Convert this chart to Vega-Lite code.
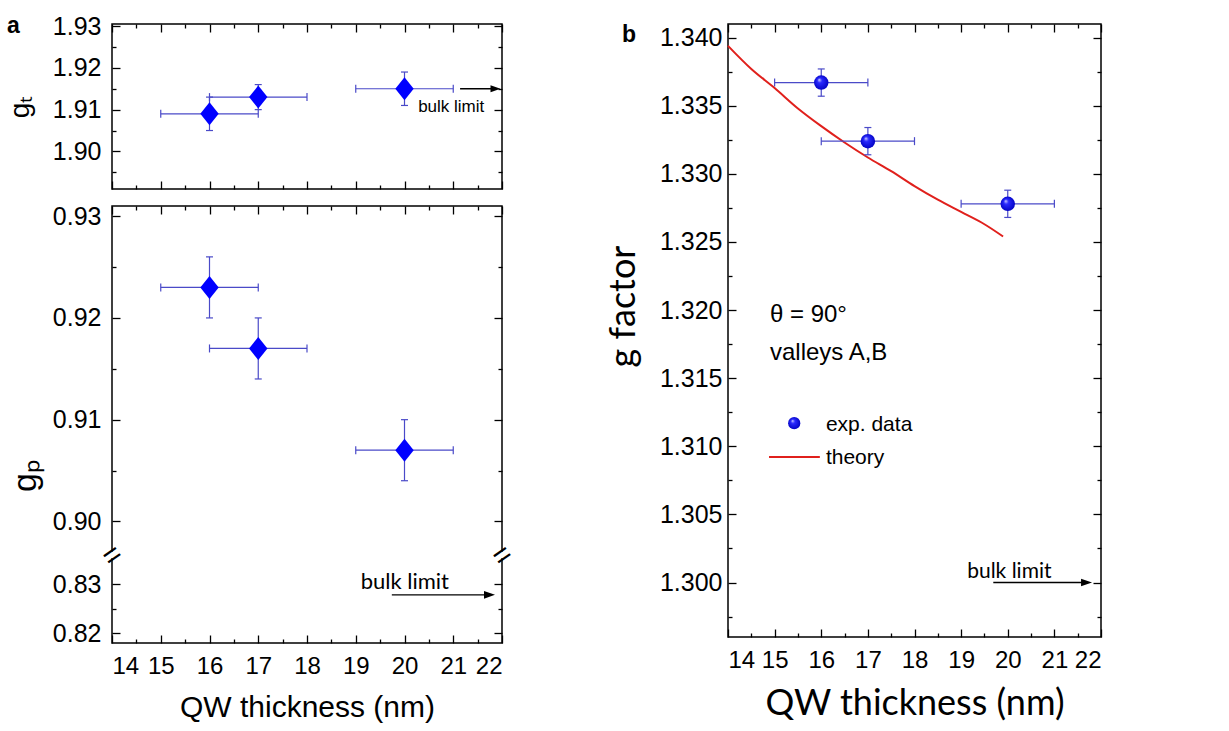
{
  "$schema": "https://vega.github.io/schema/vega-lite/v6.json",
  "background": "white",
  "padding": {"left": 5, "top": 13, "right": 5, "bottom": 0},
  "config": {
    "view": {"stroke": "black", "strokeWidth": 1.5},
    "axis": {"domain": false, "grid": false, "tickColor": "black", "tickWidth": 1.3, "labelFont": "Liberation Sans", "labelFontSize": 25, "labelColor": "black", "titleFont": "Liberation Sans", "titleFontWeight": "normal", "titleColor": "black", "labelPadding": 4}
  },
  "datasets": {
    "gt": [
      {"t": 16, "g": 1.909, "glo": 1.905, "ghi": 1.913, "tlo": 15, "thi": 17},
      {"t": 17, "g": 1.913, "glo": 1.910, "ghi": 1.916, "tlo": 16, "thi": 18},
      {"t": 20, "g": 1.915, "glo": 1.911, "ghi": 1.919, "tlo": 19, "thi": 21}
    ],
    "gp": [
      {"t": 16, "g": 0.923, "glo": 0.920, "ghi": 0.926, "tlo": 15, "thi": 17},
      {"t": 17, "g": 0.917, "glo": 0.914, "ghi": 0.920, "tlo": 16, "thi": 18},
      {"t": 20, "g": 0.907, "glo": 0.904, "ghi": 0.910, "tlo": 19, "thi": 21}
    ],
    "gb": [
      {"t": 16, "g": 1.3367, "glo": 1.3357, "ghi": 1.3377, "tlo": 15, "thi": 17},
      {"t": 17, "g": 1.3324, "glo": 1.3314, "ghi": 1.3334, "tlo": 16, "thi": 18},
      {"t": 20, "g": 1.3278, "glo": 1.3268, "ghi": 1.3288, "tlo": 19, "thi": 21}
    ],
    "theory": [
      {"t": 14.0, "g": 1.3394}, {"t": 14.5, "g": 1.3377}, {"t": 15.0, "g": 1.3363},
      {"t": 15.5, "g": 1.3348}, {"t": 16.0, "g": 1.3335}, {"t": 16.5, "g": 1.3323},
      {"t": 17.0, "g": 1.3312}, {"t": 17.5, "g": 1.3302}, {"t": 18.0, "g": 1.3291},
      {"t": 18.5, "g": 1.3281}, {"t": 19.0, "g": 1.3272}, {"t": 19.5, "g": 1.3263},
      {"t": 19.9, "g": 1.3254}
    ],
    "bulk_top": [{"t": 21.14, "t2": 21.867, "g": 1.915, "lt": 20.28, "lg": 1.9095, "label": "bulk limit"}],
    "bulk_bot": [{"t": 19.74, "t2": 21.744, "g": 0.8278, "lt": 19.1, "lg": 0.829, "label": "bulk limit"}],
    "bulk_b": [{"t": 19.69, "t2": 21.69, "g": 1.3, "lt": 19.13, "lg": 1.3003, "label": "bulk limit"}],
    "breaks": [{"t": 14, "g": 0.86}, {"t": 22, "g": 0.86}],
    "notes_b": [
      {"t": 14.9, "g": 1.31913, "label": "θ = 90°"},
      {"t": 14.9, "g": 1.31635, "label": "valleys A,B"}
    ],
    "legend_b": [
      {"series": "exp. data", "t": 15.42, "t2": 15.42, "g": 1.3117, "lt": 16.1, "lg": 1.31114},
      {"series": "theory", "t": 14.88, "t2": 15.97, "g": 1.30922, "lt": 16.1, "lg": 1.30872}
    ]
  },
  "hconcat": [
    {
      "spacing": 12,
      "vconcat": [
        {
          "width": 390, "height": 165,
          "title": {"text": "a", "anchor": "start", "frame": "group", "dx": -105, "dy": 14, "offset": -10, "fontSize": 23, "fontWeight": "bold", "font": "Liberation Sans", "color": "black"},
          "data": {"name": "gt"},
          "layer": [
            {"mark": {"type": "point", "opacity": 0}, "encoding": {
              "x": {"field": "t", "type": "quantitative", "scale": {"domain": [14, 22], "nice": false, "zero": false}, "axis": {"orient": "bottom", "values": [14,15,16,17,18,19,20,21,22], "labels": false, "tickSize": -8, "title": null}},
              "y": {"field": "g", "type": "quantitative", "scale": {"domain": [1.891, 1.9305], "nice": false, "zero": false}, "axis": {"orient": "left", "values": [1.90, 1.91, 1.92, 1.93], "format": ".2f", "tickSize": -8, "labelPadding": 19, "title": "gₜ", "titleFontSize": 28, "titlePadding": 18}}}},
            {"mark": {"type": "point", "opacity": 0}, "encoding": {
              "x": {"field": "t", "type": "quantitative", "axis": {"orient": "top", "values": [14,15,16,17,18,19,20,21,22], "labels": false, "tickSize": -8, "title": null}},
              "y": {"field": "g", "type": "quantitative", "axis": {"orient": "right", "values": [1.90, 1.91, 1.92, 1.93], "labels": false, "tickSize": -8, "title": null}}}},
            {"mark": {"type": "point", "opacity": 0}, "encoding": {
              "x": {"field": "t", "type": "quantitative", "axis": {"orient": "bottom", "values": [14.5,15.5,16.5,17.5,18.5,19.5,20.5,21.5], "labels": false, "tickSize": -4, "title": null}},
              "y": {"field": "g", "type": "quantitative", "axis": {"orient": "left", "values": [1.895, 1.905, 1.915, 1.925], "labels": false, "tickSize": -4, "title": null}}}},
            {"mark": {"type": "point", "opacity": 0}, "encoding": {
              "x": {"field": "t", "type": "quantitative", "axis": {"orient": "top", "values": [14.5,15.5,16.5,17.5,18.5,19.5,20.5,21.5], "labels": false, "tickSize": -4, "title": null}},
              "y": {"field": "g", "type": "quantitative", "axis": {"orient": "right", "values": [1.895, 1.905, 1.915, 1.925], "labels": false, "tickSize": -4, "title": null}}}},
            {"mark": {"type": "rule", "color": "#4a4ac8", "strokeWidth": 1.2}, "encoding": {
              "x": {"field": "tlo", "type": "quantitative", "axis": null}, "x2": {"field": "thi"},
              "y": {"field": "g", "type": "quantitative", "axis": null}}},
            {"mark": {"type": "rule", "color": "#4a4ac8", "strokeWidth": 1.2}, "encoding": {
              "x": {"field": "t", "type": "quantitative", "axis": null},
              "y": {"field": "glo", "type": "quantitative", "axis": null}, "y2": {"field": "ghi"}}},
            {"mark": {"type": "point", "shape": "M0,-1L0,1", "size": 64, "filled": false, "stroke": "#4a4ac8", "strokeWidth": 1.2, "opacity": 1}, "encoding": {
              "x": {"field": "tlo", "type": "quantitative", "axis": null}, "y": {"field": "g", "type": "quantitative", "axis": null}}},
            {"mark": {"type": "point", "shape": "M0,-1L0,1", "size": 64, "filled": false, "stroke": "#4a4ac8", "strokeWidth": 1.2, "opacity": 1}, "encoding": {
              "x": {"field": "thi", "type": "quantitative", "axis": null}, "y": {"field": "g", "type": "quantitative", "axis": null}}},
            {"mark": {"type": "point", "shape": "M-1,0L1,0", "size": 49, "filled": false, "stroke": "#4a4ac8", "strokeWidth": 1.2, "opacity": 1}, "encoding": {
              "x": {"field": "t", "type": "quantitative", "axis": null}, "y": {"field": "glo", "type": "quantitative", "axis": null}}},
            {"mark": {"type": "point", "shape": "M-1,0L1,0", "size": 49, "filled": false, "stroke": "#4a4ac8", "strokeWidth": 1.2, "opacity": 1}, "encoding": {
              "x": {"field": "t", "type": "quantitative", "axis": null}, "y": {"field": "ghi", "type": "quantitative", "axis": null}}},
            {"mark": {"type": "point", "shape": "M0,-1L0.8,0L0,1L-0.8,0Z", "size": 529, "filled": true, "fill": "#0000ff", "opacity": 1, "strokeWidth": 0}, "encoding": {
              "x": {"field": "t", "type": "quantitative", "axis": null}, "y": {"field": "g", "type": "quantitative", "axis": null}}},
            {"data": {"name": "bulk_top"}, "mark": {"type": "rule", "color": "black", "strokeWidth": 1.3}, "encoding": {
              "x": {"field": "t", "type": "quantitative", "axis": null}, "x2": {"field": "t2"}, "y": {"field": "g", "type": "quantitative", "axis": null}}},
            {"data": {"name": "bulk_top"}, "mark": {"type": "point", "shape": "M-1,-0.7L1,0L-1,0.7Z", "size": 100, "filled": true, "fill": "black", "opacity": 1}, "encoding": {
              "x": {"field": "t2", "type": "quantitative", "axis": null}, "y": {"field": "g", "type": "quantitative", "axis": null}}},
            {"data": {"name": "bulk_top"}, "mark": {"type": "text", "align": "left", "baseline": "alphabetic", "font": "Liberation Sans", "fontSize": 17, "color": "black"}, "encoding": {
              "x": {"field": "lt", "type": "quantitative", "axis": null}, "y": {"field": "lg", "type": "quantitative", "axis": null}, "text": {"field": "label"}}}
          ],
          "resolve": {"axis": {"x": "independent", "y": "independent"}}
        },
        {
          "width": 390, "height": 437,
          "data": {"name": "gp"},
          "layer": [
            {"mark": {"type": "point", "opacity": 0}, "encoding": {
              "x": {"field": "t", "type": "quantitative", "scale": {"domain": [14, 22], "nice": false, "zero": false}, "axis": {"orient": "bottom", "values": [14,15,16,17,18,19,20,21,22], "tickSize": -8, "labelPadding": 19, "labelFontSize": 24, "title": "QW thickness (nm)", "titleFontSize": 30, "titlePadding": 14}},
              "y": {"field": "g", "type": "quantitative", "scale": {"domain": [0.818, 0.8359, 0.8967, 0.931], "range": [437, 349, 349, 0], "nice": false, "zero": false}, "axis": {"orient": "left", "values": [0.82, 0.83, 0.90, 0.91, 0.92, 0.93], "format": ".2f", "tickSize": -8, "labelPadding": 19, "title": "gₚ", "titleFontSize": 34, "titlePadding": 10, "titleY": 269}}}},
            {"mark": {"type": "point", "opacity": 0}, "encoding": {
              "x": {"field": "t", "type": "quantitative", "axis": {"orient": "top", "values": [14,15,16,17,18,19,20,21,22], "labels": false, "tickSize": -8, "title": null}},
              "y": {"field": "g", "type": "quantitative", "axis": {"orient": "right", "values": [0.82, 0.83, 0.90, 0.91, 0.92, 0.93], "labels": false, "tickSize": -8, "title": null}}}},
            {"mark": {"type": "point", "opacity": 0}, "encoding": {
              "x": {"field": "t", "type": "quantitative", "axis": {"orient": "bottom", "values": [14.5,15.5,16.5,17.5,18.5,19.5,20.5,21.5], "labels": false, "tickSize": -4, "title": null}},
              "y": {"field": "g", "type": "quantitative", "axis": {"orient": "left", "values": [0.825, 0.905, 0.915, 0.925], "labels": false, "tickSize": -4, "title": null}}}},
            {"mark": {"type": "point", "opacity": 0}, "encoding": {
              "x": {"field": "t", "type": "quantitative", "axis": {"orient": "top", "values": [14.5,15.5,16.5,17.5,18.5,19.5,20.5,21.5], "labels": false, "tickSize": -4, "title": null}},
              "y": {"field": "g", "type": "quantitative", "axis": {"orient": "right", "values": [0.825, 0.905, 0.915, 0.925], "labels": false, "tickSize": -4, "title": null}}}},
            {"mark": {"type": "rule", "color": "#4a4ac8", "strokeWidth": 1.2}, "encoding": {
              "x": {"field": "tlo", "type": "quantitative", "axis": null}, "x2": {"field": "thi"},
              "y": {"field": "g", "type": "quantitative", "axis": null}}},
            {"mark": {"type": "rule", "color": "#4a4ac8", "strokeWidth": 1.2}, "encoding": {
              "x": {"field": "t", "type": "quantitative", "axis": null},
              "y": {"field": "glo", "type": "quantitative", "axis": null}, "y2": {"field": "ghi"}}},
            {"mark": {"type": "point", "shape": "M0,-1L0,1", "size": 64, "filled": false, "stroke": "#4a4ac8", "strokeWidth": 1.2, "opacity": 1}, "encoding": {
              "x": {"field": "tlo", "type": "quantitative", "axis": null}, "y": {"field": "g", "type": "quantitative", "axis": null}}},
            {"mark": {"type": "point", "shape": "M0,-1L0,1", "size": 64, "filled": false, "stroke": "#4a4ac8", "strokeWidth": 1.2, "opacity": 1}, "encoding": {
              "x": {"field": "thi", "type": "quantitative", "axis": null}, "y": {"field": "g", "type": "quantitative", "axis": null}}},
            {"mark": {"type": "point", "shape": "M-1,0L1,0", "size": 49, "filled": false, "stroke": "#4a4ac8", "strokeWidth": 1.2, "opacity": 1}, "encoding": {
              "x": {"field": "t", "type": "quantitative", "axis": null}, "y": {"field": "glo", "type": "quantitative", "axis": null}}},
            {"mark": {"type": "point", "shape": "M-1,0L1,0", "size": 49, "filled": false, "stroke": "#4a4ac8", "strokeWidth": 1.2, "opacity": 1}, "encoding": {
              "x": {"field": "t", "type": "quantitative", "axis": null}, "y": {"field": "ghi", "type": "quantitative", "axis": null}}},
            {"mark": {"type": "point", "shape": "M0,-1L0.8,0L0,1L-0.8,0Z", "size": 529, "filled": true, "fill": "#0000ff", "opacity": 1, "strokeWidth": 0}, "encoding": {
              "x": {"field": "t", "type": "quantitative", "axis": null}, "y": {"field": "g", "type": "quantitative", "axis": null}}},
            {"data": {"name": "breaks"}, "mark": {"type": "point", "shape": "square", "size": 40, "filled": true, "fill": "white", "opacity": 1, "strokeWidth": 0}, "encoding": {
              "x": {"field": "t", "type": "quantitative", "axis": null}, "y": {"field": "g", "type": "quantitative", "axis": null}}},
            {"data": {"name": "breaks"}, "mark": {"type": "text", "text": "=", "font": "Liberation Sans", "fontSize": 30, "angle": -35, "align": "center", "baseline": "middle", "dy": 1, "color": "black"}, "encoding": {
              "x": {"field": "t", "type": "quantitative", "axis": null}, "y": {"field": "g", "type": "quantitative", "axis": null}}},
            {"data": {"name": "bulk_bot"}, "mark": {"type": "rule", "color": "black", "strokeWidth": 1.3}, "encoding": {
              "x": {"field": "t", "type": "quantitative", "axis": null}, "x2": {"field": "t2"}, "y": {"field": "g", "type": "quantitative", "axis": null}}},
            {"data": {"name": "bulk_bot"}, "mark": {"type": "point", "shape": "M-1,-0.7L1,0L-1,0.7Z", "size": 121, "filled": true, "fill": "black", "opacity": 1}, "encoding": {
              "x": {"field": "t2", "type": "quantitative", "axis": null}, "y": {"field": "g", "type": "quantitative", "axis": null}}},
            {"data": {"name": "bulk_bot"}, "mark": {"type": "text", "align": "left", "baseline": "alphabetic", "font": "Lato", "fontSize": 22, "color": "black"}, "encoding": {
              "x": {"field": "lt", "type": "quantitative", "axis": null}, "y": {"field": "lg", "type": "quantitative", "axis": null}, "text": {"field": "label"}}}
          ],
          "resolve": {"axis": {"x": "independent", "y": "independent"}}
        }
      ]
    },
    {
      "width": 373, "height": 613,
      "title": {"text": "b", "anchor": "start", "frame": "group", "dx": -106, "dy": 14, "offset": -10, "fontSize": 23, "fontWeight": "bold", "font": "Liberation Sans", "color": "black"},
      "data": {"name": "gb"},
      "layer": [
        {"mark": {"type": "point", "opacity": 0}, "encoding": {
          "x": {"field": "t", "type": "quantitative", "scale": {"domain": [14, 22], "nice": false, "zero": false}, "axis": {"orient": "bottom", "values": [14,15,16,17,18,19,20,21,22], "tickSize": -8, "labelPadding": 19, "labelFontSize": 24, "title": "QW thickness (nm)", "titleFont": "Lato", "titleFontSize": 36, "titlePadding": 14}},
          "y": {"field": "g", "type": "quantitative", "scale": {"domain": [1.296, 1.341], "nice": false, "zero": false}, "axis": {"orient": "left", "values": [1.300, 1.305, 1.310, 1.315, 1.320, 1.325, 1.330, 1.335, 1.340], "format": ".3f", "tickSize": -8, "labelPadding": 14, "title": "g factor", "titleFont": "Lato", "titleFontSize": 36, "titlePadding": 17, "titleY": 282}}}},
        {"mark": {"type": "point", "opacity": 0}, "encoding": {
          "x": {"field": "t", "type": "quantitative", "axis": {"orient": "top", "values": [14,15,16,17,18,19,20,21,22], "labels": false, "tickSize": -8, "title": null}},
          "y": {"field": "g", "type": "quantitative", "axis": {"orient": "right", "values": [1.300, 1.305, 1.310, 1.315, 1.320, 1.325, 1.330, 1.335, 1.340], "labels": false, "tickSize": -8, "title": null}}}},
        {"mark": {"type": "point", "opacity": 0}, "encoding": {
          "x": {"field": "t", "type": "quantitative", "axis": {"orient": "bottom", "values": [14.5,15.5,16.5,17.5,18.5,19.5,20.5,21.5], "labels": false, "tickSize": -4, "title": null}},
          "y": {"field": "g", "type": "quantitative", "axis": {"orient": "left", "values": [1.2975, 1.3025, 1.3075, 1.3125, 1.3175, 1.3225, 1.3275, 1.3325, 1.3375], "labels": false, "tickSize": -4, "title": null}}}},
        {"mark": {"type": "point", "opacity": 0}, "encoding": {
          "x": {"field": "t", "type": "quantitative", "axis": {"orient": "top", "values": [14.5,15.5,16.5,17.5,18.5,19.5,20.5,21.5], "labels": false, "tickSize": -4, "title": null}},
          "y": {"field": "g", "type": "quantitative", "axis": {"orient": "right", "values": [1.2975, 1.3025, 1.3075, 1.3125, 1.3175, 1.3225, 1.3275, 1.3325, 1.3375], "labels": false, "tickSize": -4, "title": null}}}},
        {"data": {"name": "theory"}, "mark": {"type": "line", "color": "#e0201c", "strokeWidth": 2, "interpolate": "monotone"}, "encoding": {
          "x": {"field": "t", "type": "quantitative", "axis": null}, "y": {"field": "g", "type": "quantitative", "axis": null}}},
        {"mark": {"type": "rule", "color": "#4a4ac8", "strokeWidth": 1.2}, "encoding": {
          "x": {"field": "tlo", "type": "quantitative", "axis": null}, "x2": {"field": "thi"},
          "y": {"field": "g", "type": "quantitative", "axis": null}}},
        {"mark": {"type": "rule", "color": "#4a4ac8", "strokeWidth": 1.2}, "encoding": {
          "x": {"field": "t", "type": "quantitative", "axis": null},
          "y": {"field": "glo", "type": "quantitative", "axis": null}, "y2": {"field": "ghi"}}},
        {"mark": {"type": "point", "shape": "M0,-1L0,1", "size": 64, "filled": false, "stroke": "#4a4ac8", "strokeWidth": 1.2, "opacity": 1}, "encoding": {
          "x": {"field": "tlo", "type": "quantitative", "axis": null}, "y": {"field": "g", "type": "quantitative", "axis": null}}},
        {"mark": {"type": "point", "shape": "M0,-1L0,1", "size": 64, "filled": false, "stroke": "#4a4ac8", "strokeWidth": 1.2, "opacity": 1}, "encoding": {
          "x": {"field": "thi", "type": "quantitative", "axis": null}, "y": {"field": "g", "type": "quantitative", "axis": null}}},
        {"mark": {"type": "point", "shape": "M-1,0L1,0", "size": 49, "filled": false, "stroke": "#4a4ac8", "strokeWidth": 1.2, "opacity": 1}, "encoding": {
          "x": {"field": "t", "type": "quantitative", "axis": null}, "y": {"field": "glo", "type": "quantitative", "axis": null}}},
        {"mark": {"type": "point", "shape": "M-1,0L1,0", "size": 49, "filled": false, "stroke": "#4a4ac8", "strokeWidth": 1.2, "opacity": 1}, "encoding": {
          "x": {"field": "t", "type": "quantitative", "axis": null}, "y": {"field": "ghi", "type": "quantitative", "axis": null}}},
        {"mark": {"type": "point", "shape": "circle", "size": 210, "filled": true, "opacity": 1, "strokeWidth": 0,
          "fill": {"gradient": "radial", "x1": 0.35, "y1": 0.3, "r1": 0, "x2": 0.5, "y2": 0.5, "r2": 0.55, "stops": [{"offset": 0, "color": "#d8d8ff"}, {"offset": 0.3, "color": "#2a2aff"}, {"offset": 1, "color": "#0000c0"}]}},
          "encoding": {"x": {"field": "t", "type": "quantitative", "axis": null}, "y": {"field": "g", "type": "quantitative", "axis": null}}},
        {"data": {"name": "notes_b"}, "mark": {"type": "text", "align": "left", "baseline": "alphabetic", "font": "Liberation Sans", "fontSize": 24, "color": "black"}, "encoding": {
          "x": {"field": "t", "type": "quantitative", "axis": null}, "y": {"field": "g", "type": "quantitative", "axis": null}, "text": {"field": "label"}}},
        {"data": {"name": "legend_b"}, "transform": [{"filter": "datum.series === 'theory'"}], "mark": {"type": "rule", "color": "#e0201c", "strokeWidth": 2}, "encoding": {
          "x": {"field": "t", "type": "quantitative", "axis": null}, "x2": {"field": "t2"}, "y": {"field": "g", "type": "quantitative", "axis": null}}},
        {"data": {"name": "legend_b"}, "transform": [{"filter": "datum.series === 'exp. data'"}], "mark": {"type": "point", "shape": "circle", "size": 150, "filled": true, "opacity": 1, "strokeWidth": 0,
          "fill": {"gradient": "radial", "x1": 0.35, "y1": 0.3, "r1": 0, "x2": 0.5, "y2": 0.5, "r2": 0.55, "stops": [{"offset": 0, "color": "#d8d8ff"}, {"offset": 0.3, "color": "#2a2aff"}, {"offset": 1, "color": "#0000c0"}]}},
          "encoding": {"x": {"field": "t", "type": "quantitative", "axis": null}, "y": {"field": "g", "type": "quantitative", "axis": null}}},
        {"data": {"name": "legend_b"}, "mark": {"type": "text", "align": "left", "baseline": "alphabetic", "font": "Liberation Sans", "fontSize": 21, "color": "black"}, "encoding": {
          "x": {"field": "lt", "type": "quantitative", "axis": null}, "y": {"field": "lg", "type": "quantitative", "axis": null}, "text": {"field": "series"}}},
        {"data": {"name": "bulk_b"}, "mark": {"type": "rule", "color": "black", "strokeWidth": 1.3}, "encoding": {
          "x": {"field": "t", "type": "quantitative", "axis": null}, "x2": {"field": "t2"}, "y": {"field": "g", "type": "quantitative", "axis": null}}},
        {"data": {"name": "bulk_b"}, "mark": {"type": "point", "shape": "M-1,-0.7L1,0L-1,0.7Z", "size": 121, "filled": true, "fill": "black", "opacity": 1}, "encoding": {
          "x": {"field": "t2", "type": "quantitative", "axis": null}, "y": {"field": "g", "type": "quantitative", "axis": null}}},
        {"data": {"name": "bulk_b"}, "mark": {"type": "text", "align": "left", "baseline": "alphabetic", "font": "Lato", "fontSize": 21, "color": "black"}, "encoding": {
          "x": {"field": "lt", "type": "quantitative", "axis": null}, "y": {"field": "lg", "type": "quantitative", "axis": null}, "text": {"field": "label"}}}
      ],
      "resolve": {"axis": {"x": "independent", "y": "independent"}}
    }
  ],
  "spacing": 84
}
